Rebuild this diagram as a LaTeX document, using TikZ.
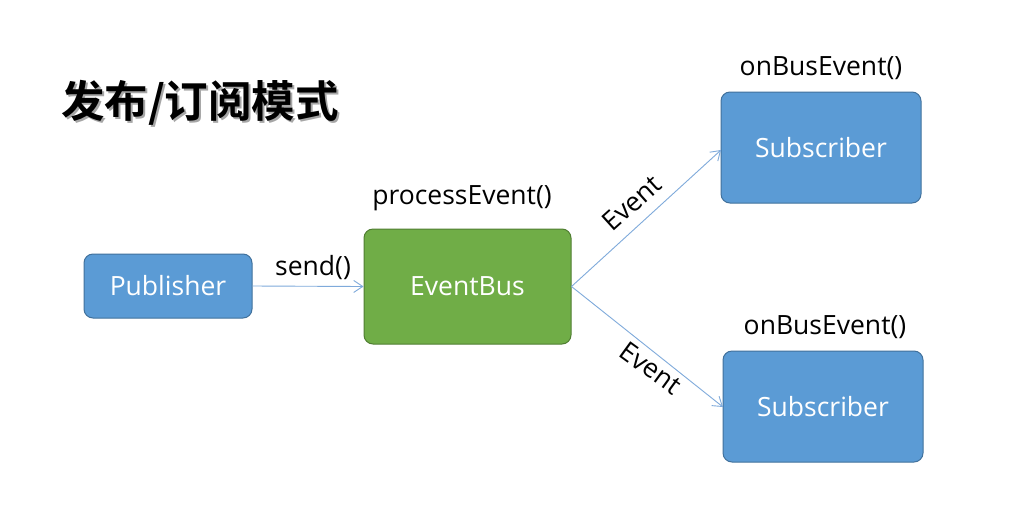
\documentclass[tikz,border=0pt]{standalone}
\usepackage{fontspec}
\setmainfont{Open Sans}
\newfontfamily\cjk{Noto Sans CJK SC}[BoldFont={* Bold}]
\usetikzlibrary{arrows.meta}
\definecolor{boxblue}{HTML}{5B9BD5}
\definecolor{boxblueline}{HTML}{41719C}
\definecolor{boxgreen}{HTML}{70AD47}
\definecolor{boxgreenline}{HTML}{507E32}
\definecolor{arrowblue}{HTML}{7FAADB}
\tikzset{
  box/.style={draw=boxblueline, fill=boxblue, line width=1pt, rounded corners=9pt, text=white, font=\fontsize{26.5}{30}\selectfont, inner sep=0pt},
  greenbox/.style={box, draw=boxgreenline, fill=boxgreen},
  lbl/.style={font=\fontsize{26.5}{30}\selectfont, text=black, inner sep=0pt},
  conn/.style={draw=arrowblue, line width=0.9pt, -{Straight Barb[length=9pt,width=12pt,line width=0.9pt]}},
  titlefont/.style={font=\cjk\bfseries\fontsize{43.5}{48}\selectfont, inner sep=0pt},
}
\begin{document}
\begin{tikzpicture}[x=1pt,y=-1pt]
\useasboundingbox[fill=white] (0,0) rectangle (1027,520);
% title
\node[titlefont, text=black!35] (titleshadow) at (202,105) {发布/订阅模式};
\node[titlefont, text=black] (title) at (200,103) {发布/订阅模式};
% boxes
\node[box, minimum width=168pt, minimum height=64pt] (pub) at (168,286) {Publisher};
\node[greenbox, minimum width=207pt, minimum height=115pt] (bus) at (467.5,286.5) {EventBus};
\node[box, minimum width=200pt, minimum height=111pt] (sub1) at (821,147.5) {Subscriber};
\node[box, minimum width=200pt, minimum height=111pt] (sub2) at (823,406.5) {Subscriber};
% labels
\node[lbl] (pe) at (462,198) {processEvent()};
\node[lbl] (ob1) at (821,68) {onBusEvent()};
\node[lbl] (ob2) at (825,327) {onBusEvent()};
% connectors
\coordinate (t1) at (721,150);
\coordinate (t2) at (723,407);
\draw[conn] (pub.east) -- (bus.west);
\node[lbl] (sendl) at (313,268) {send()};
\draw[conn] (bus.east) -- (t1);
\draw[conn] (bus.east) -- (t2);
\node[lbl, rotate=42] (ev1) at (632,203) {Event};
\node[lbl, rotate=-36] (ev2) at (651,368) {Event};
\end{tikzpicture}
\end{document}
